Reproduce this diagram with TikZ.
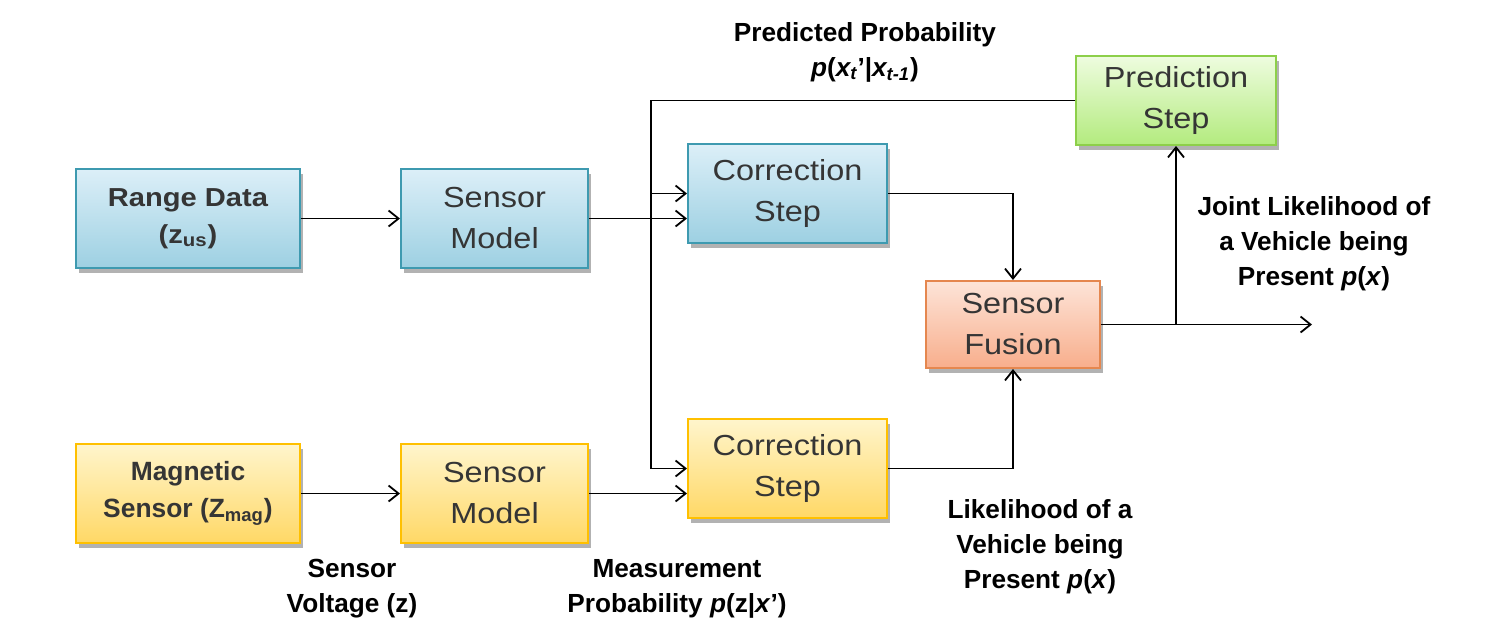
\documentclass[tikz,border=0pt]{standalone}
\usepackage{fontspec}
\setmainfont{Liberation Sans}
\newfontfamily\boxfont[FakeStretch=1.12]{Liberation Sans}
\usetikzlibrary{arrows.meta,shadows}
\definecolor{bluetop}{HTML}{DCEFF8}
\definecolor{bluebot}{HTML}{9DD0E2}
\definecolor{blueline}{HTML}{3E9AB0}
\definecolor{greentop}{HTML}{EEFCDF}
\definecolor{greenbot}{HTML}{B3EB7E}
\definecolor{greenline}{HTML}{8DCF4A}
\definecolor{orangetop}{HTML}{FDE4D8}
\definecolor{orangebot}{HTML}{F8AE8C}
\definecolor{orangeline}{HTML}{E5874F}
\definecolor{yellowtop}{HTML}{FFF5CC}
\definecolor{yellowbot}{HTML}{FFD866}
\definecolor{yellowline}{HTML}{FFC000}
\definecolor{boxtext}{HTML}{353535}
\tikzset{
  box/.style={draw, line width=1pt, align=center, text=boxtext,
    font=\boxfont\fontsize{14.5}{20.5}\selectfont,
    drop shadow={shadow xshift=1.5pt, shadow yshift=-2.5pt, opacity=0.3, fill=black}},
  bluebox/.style={box, draw=blueline, top color=bluetop, bottom color=bluebot},
  greenbox/.style={box, draw=greenline, top color=greentop, bottom color=greenbot},
  orangebox/.style={box, draw=orangeline, top color=orangetop, bottom color=orangebot},
  yellowbox/.style={box, draw=yellowline, top color=yellowtop, bottom color=yellowbot},
  rangefont/.style={font=\boxfont\bfseries\fontsize{13}{18.5}\selectfont},
  magfont/.style={font=\bfseries\fontsize{13.2}{18.5}\selectfont},
  lbl/.style={align=center, font=\bfseries\fontsize{13.1}{17.5}\selectfont, text=black},
  arr/.style={-{Straight Barb[length=5pt,width=8pt]}, line width=0.9pt},
  ln/.style={line width=0.9pt}
}
\begin{document}
\begin{tikzpicture}[x=0.5pt,y=-0.5pt]
\useasboundingbox (0,0) rectangle (1512,623);
% boxes
\node[bluebox, rangefont, minimum width=112pt, minimum height=49.5pt] (range) at (188,218.5) {Range Data\\(z\textsubscript{us})};
\node[bluebox, minimum width=93.5pt, minimum height=49.5pt] (sm1) at (494.5,218.5) {Sensor\\Model};
\node[bluebox, minimum width=99.5pt, minimum height=49.5pt] (cs1) at (787.5,193.5) {Correction\\Step};
\node[greenbox, minimum width=100pt, minimum height=44.5pt] (pred) at (1176,100.5) {Prediction\\Step};
\node[orangebox, minimum width=87pt, minimum height=43.5pt] (fus) at (1013,324.5) {Sensor\\Fusion};
\node[yellowbox, magfont, minimum width=112pt, minimum height=49.5pt] (mag) at (188,493.5) {Magnetic\\Sensor (Z\textsubscript{mag})};
\node[yellowbox, minimum width=93.5pt, minimum height=49.5pt] (sm2) at (494.5,493.5) {Sensor\\Model};
\node[yellowbox, minimum width=99.5pt, minimum height=49.5pt] (cs2) at (787.5,468.5) {Correction\\Step};
% connectors
\coordinate (jt) at (651,100.5);
\coordinate (jb) at (651,468.5);
\coordinate (out) at (1312,324.5);
\draw[arr] (range) -- (sm1);
\draw[arr] (sm1.east) -- (sm1.east -| cs1.west);
\draw[ln] (pred.west) -- (jt) -- (jb);
\draw[arr] (jt |- cs1.west) -- (cs1.west);
\draw[arr] (jb) -- (cs2.west);
\draw[arr] (mag) -- (sm2);
\draw[arr] (sm2.east) -- (sm2.east -| cs2.west);
\draw[arr] (cs1.east) -| (fus.north);
\draw[arr] (cs2.east) -| (fus.south);
\draw[arr] (fus.east) -- (out);
\coordinate (br) at (pred.south |- out);
\draw[arr] (br) -- (pred.south);
% labels
\node[lbl] (lpred) at (865,52) {Predicted Probability\\\textit{p}(\textit{x\textsubscript{t}}'|\textit{x\textsubscript{t-1}})};
\node[lbl] (ljoint) at (1314,244) {Joint Likelihood of\\a Vehicle being\\Present \textit{p}(\textit{x})};
\node[lbl] (llik) at (1040,547) {Likelihood of a\\Vehicle being\\Present \textit{p}(\textit{x})};
\node[lbl] (lvolt) at (352,589) {Sensor\\Voltage (z)};
\node[lbl] (lmeas) at (677,589) {Measurement\\Probability \textit{p}(z|\textit{x}')};
\end{tikzpicture}
\end{document}
